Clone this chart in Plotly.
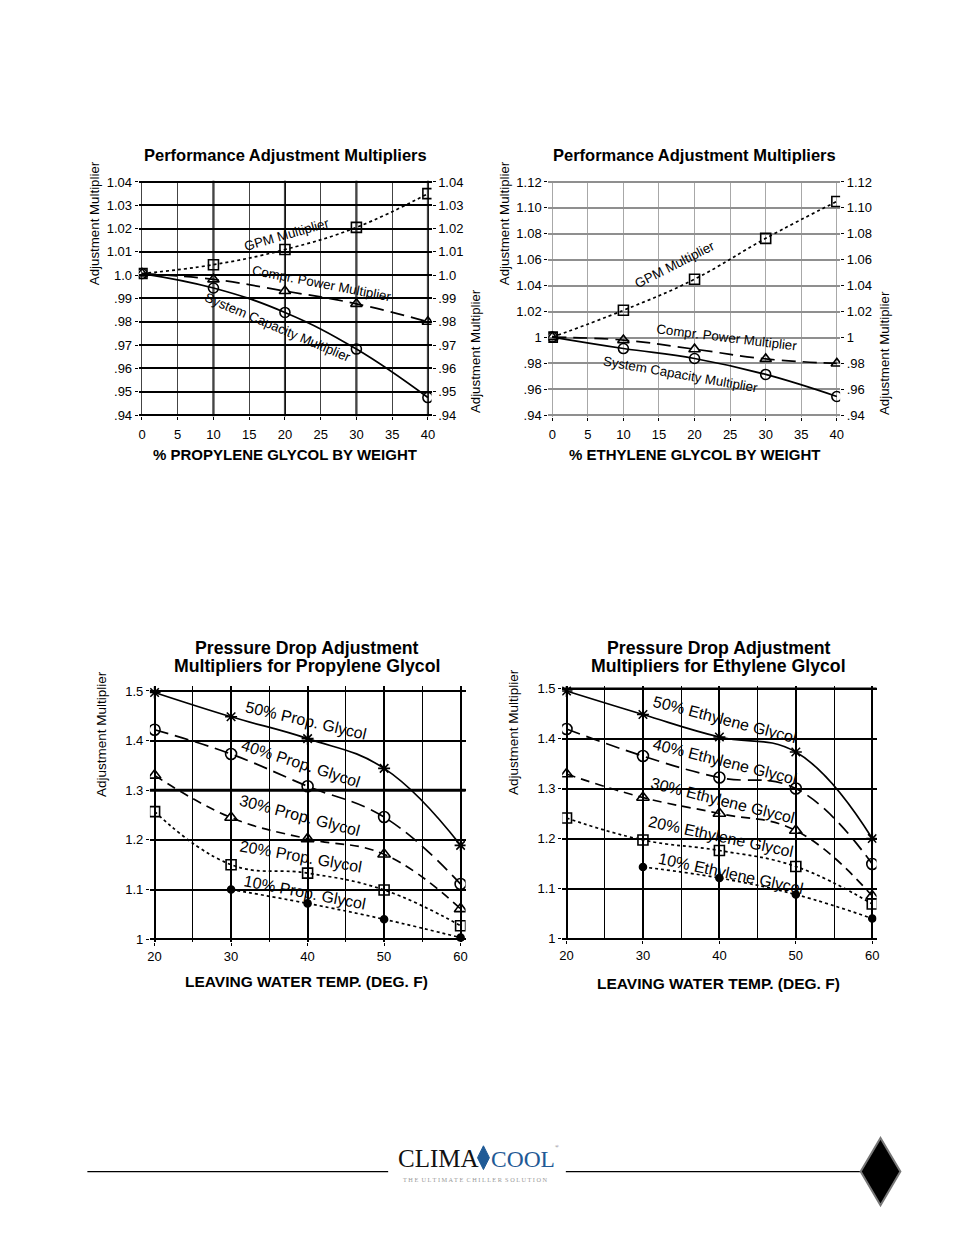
import plotly.graph_objects as go

W, H = 954, 1235
FONT = "Arial, 'Liberation Sans', sans-serif"
SERIF = "'Liberation Serif', 'DejaVu Serif', serif"

# ---------------- data ----------------
# Performance adjustment multipliers - propylene glycol
pg_pct = [0, 10, 20, 30, 40]
pg_gpm = [1.0007, 1.0045, 1.0110, 1.0205, 1.0350]
pg_power = [1.0007, 0.9982, 0.9932, 0.9877, 0.9800]
pg_capacity = [1.0007, 0.9945, 0.9840, 0.9683, 0.9475]

# Performance adjustment multipliers - ethylene glycol
eg_pct = [0, 10, 20, 30, 40]
eg_gpm = [1.0003, 1.0210, 1.0450, 1.0765, 1.1050]
eg_power = [1.0003, 0.9980, 0.9910, 0.9835, 0.9800]
eg_capacity = [1.0003, 0.9915, 0.9838, 0.9715, 0.9545]

# Pressure drop multipliers - propylene glycol
temps = [20, 30, 40, 50, 60]
temps_10 = [30, 40, 50, 60]
pdp_50 = [1.497, 1.448, 1.404, 1.344, 1.189]
pdp_40 = [1.422, 1.373, 1.308, 1.246, 1.111]
pdp_30 = [1.330, 1.245, 1.202, 1.171, 1.061]
pdp_20 = [1.257, 1.150, 1.133, 1.099, 1.027]
pdp_10 = [1.100, 1.072, 1.040, 1.003]

# Pressure drop multipliers - ethylene glycol
pde_50 = [1.495, 1.448, 1.403, 1.373, 1.200]
pde_40 = [1.419, 1.365, 1.322, 1.300, 1.149]
pde_30 = [1.329, 1.282, 1.250, 1.216, 1.085]
pde_20 = [1.241, 1.197, 1.176, 1.144, 1.069]
pde_10 = [1.143, 1.121, 1.088, 1.040]

# tick labels
pct_ticks = [0, 5, 10, 15, 20, 25, 30, 35, 40]
pg_yvals = [1.04, 1.03, 1.02, 1.01, 1.00, 0.99, 0.98, 0.97, 0.96, 0.95, 0.94]
pg_ylabels = ["1.04", "1.03", "1.02", "1.01", "1.0", ".99", ".98", ".97", ".96", ".95", ".94"]
eg_yvals = [1.12, 1.10, 1.08, 1.06, 1.04, 1.02, 1.00, 0.98, 0.96, 0.94]
eg_ylabels = ["1.12", "1.10", "1.08", "1.06", "1.04", "1.02", "1", ".98", ".96", ".94"]
temp_ticks = [20, 30, 40, 50, 60]
pd_yvals = [1.0, 1.1, 1.2, 1.3, 1.4, 1.5]
pd_ylabels = ["1", "1.1", "1.2", "1.3", "1.4", "1.5"]
pg_major_x = [10, 20, 30, 40]


def px(x, y):
    return x / W, 1 - y / H


fig = go.Figure()


def add(xs, ys, xa, ya, dash, symbol, size, width=1.7, mlw=1.6):
    fig.add_trace(go.Scatter(
        x=xs, y=ys, xaxis=xa, yaxis=ya, mode="lines+markers",
        line=dict(color="black", width=width, dash=dash, shape="spline", smoothing=1.2),
        marker=dict(symbol=symbol, size=size, color="black",
                    line=dict(color="black", width=mlw)),
        showlegend=False, hoverinfo="skip"))


DOT = "3px,3px"
LDASH = "14px,7px"
MDASH = "9px,6px"

# chart 1
add(pg_pct, pg_gpm, "x", "y", DOT, "square-open", 10)
add(pg_pct, pg_power, "x", "y", LDASH, "triangle-up-open", 10)
add(pg_pct, pg_capacity, "x", "y", "solid", "circle-open", 10)
fig.add_trace(go.Scatter(x=pg_pct, y=pg_gpm, xaxis="x", yaxis="y2", mode="markers",
                         marker=dict(opacity=0), showlegend=False, hoverinfo="skip"))
# chart 2
add(eg_pct, eg_gpm, "x2", "y3", DOT, "square-open", 10)
add(eg_pct, eg_power, "x2", "y3", LDASH, "triangle-up-open", 10)
add(eg_pct, eg_capacity, "x2", "y3", "solid", "circle-open", 10)
fig.add_trace(go.Scatter(x=eg_pct, y=eg_gpm, xaxis="x2", yaxis="y4", mode="markers",
                         marker=dict(opacity=0), showlegend=False, hoverinfo="skip"))
# chart 3
add(temps, pdp_50, "x3", "y5", "solid", "asterisk-open", 10)
add(temps, pdp_40, "x3", "y5", LDASH, "circle-open", 11)
add(temps, pdp_30, "x3", "y5", MDASH, "triangle-up-open", 11)
add(temps, pdp_20, "x3", "y5", DOT, "square-open", 10)
add(temps_10, pdp_10, "x3", "y5", DOT, "circle", 7)
# chart 4
add(temps, pde_50, "x4", "y6", "solid", "asterisk-open", 10)
add(temps, pde_40, "x4", "y6", LDASH, "circle-open", 11)
add(temps, pde_30, "x4", "y6", MDASH, "triangle-up-open", 11)
add(temps, pde_20, "x4", "y6", DOT, "square-open", 10)
add(temps_10, pde_10, "x4", "y6", DOT, "circle", 7)


def dom_x(a, b):
    return [a / W, b / W]


def dom_y(top, bottom):
    return [1 - bottom / H, 1 - top / H]


tickfont = dict(size=13, color="black", family=FONT)
common = dict(zeroline=False, showline=False, tickfont=tickfont, ticks="outside",
              ticklen=3, tickcolor="black", fixedrange=True)

fig.update_layout(
    width=W, height=H, margin=dict(l=0, r=0, t=0, b=0),
    paper_bgcolor="white", plot_bgcolor="white", showlegend=False,
    font=dict(family=FONT, color="black"),
    # chart 1
    xaxis=dict(domain=dom_x(136.7, 431.7), range=[-0.46, 40.51], anchor="y",
               tickvals=pct_ticks, showgrid=True, gridcolor="#444", gridwidth=1.2,
               ticklabelstandoff=3, **common),
    yaxis=dict(domain=dom_y(176.5, 414.2), range=[0.9395, 1.0405], anchor="x",
               tickvals=pg_yvals, ticktext=pg_ylabels, showgrid=True, gridcolor="black",
               gridwidth=1.5, **common),
    yaxis2=dict(range=[0.9395, 1.0405], overlaying="y", side="right", anchor="x",
                tickvals=pg_yvals, ticktext=pg_ylabels, showgrid=False, **common),
    # chart 2
    xaxis2=dict(domain=dom_x(549.3, 843.3), range=[-0.56, 40.46], anchor="y3",
                tickvals=pct_ticks, showgrid=True, gridcolor="#a8a8a8", gridwidth=1.3,
                ticklabelstandoff=3, **common),
    yaxis3=dict(domain=dom_y(176.4, 414.6), range=[0.939, 1.121], anchor="x2",
                tickvals=eg_yvals, ticktext=eg_ylabels, showgrid=True, gridcolor="#8f8f8f",
                gridwidth=1.5, **common),
    yaxis4=dict(range=[0.939, 1.121], overlaying="y3", side="right", anchor="x2",
                tickvals=eg_yvals, ticktext=eg_ylabels, showgrid=False, **common),
    # chart 3
    xaxis3=dict(domain=dom_x(148, 466), range=[19.39, 60.65], anchor="y5",
                tickvals=temp_ticks, showgrid=True, gridcolor="black", gridwidth=1.5,
                minor=dict(dtick=5, showgrid=True, gridcolor="black", gridwidth=1.2),
                **common),
    yaxis5=dict(domain=dom_y(686.7, 945), range=[0.9946, 1.51], anchor="x3",
                tickvals=pd_yvals, ticktext=pd_ylabels, showgrid=True, gridcolor="black",
                gridwidth=1.5, **common),
    # chart 4
    xaxis4=dict(domain=dom_x(563.3, 880), range=[19.43, 60.56], anchor="y6",
                tickvals=temp_ticks, showgrid=True, gridcolor="black", gridwidth=1.5,
                minor=dict(dtick=5, showgrid=True, gridcolor="black", gridwidth=1.2),
                **common),
    yaxis6=dict(domain=dom_y(686.7, 943.3), range=[0.9968, 1.505], anchor="x4",
                tickvals=pd_yvals, ticktext=pd_ylabels, showgrid=True, gridcolor="black",
                gridwidth=1.5, **common),
)

shapes = []
for v in pg_major_x:
    shapes.append(dict(type="line", xref="x", yref="y domain", x0=v, x1=v, y0=0, y1=1,
                       line=dict(color="black", width=2), layer="below"))
shapes.append(dict(type="line", xref="x3 domain", yref="y5", x0=0, x1=1, y0=1.3, y1=1.3,
                   line=dict(color="black", width=3), layer="below"))
shapes.append(dict(type="line", xref="x3 domain", yref="y5", x0=0, x1=1, y0=1.5, y1=1.5,
                   line=dict(color="black", width=2.2), layer="below"))
shapes.append(dict(type="line", xref="x4 domain", yref="y6", x0=0, x1=1, y0=1.5, y1=1.5,
                   line=dict(color="black", width=2.2), layer="below"))

for (xa, xb) in [(85, 388), (567, 866)]:
    x0, y0 = px(xa, 1177)
    x1, _ = px(xb, 1177)
    shapes.append(dict(type="line", xref="paper", yref="paper", x0=x0, x1=x1, y0=y0, y1=y0,
                       line=dict(color="black", width=1.3)))


def path(points):
    s = ""
    for i, (a, b) in enumerate(points):
        xx, yy = px(a, b)
        s += ("M" if i == 0 else "L") + f"{xx:.5f},{yy:.5f} "
    return s + "Z"


shapes.append(dict(type="path", xref="paper", yref="paper",
                   path=path([(884, 1143), (904, 1177), (884, 1211), (864, 1177)]),
                   fillcolor="black", line=dict(color="#777", width=2)))
shapes.append(dict(type="path", xref="paper", yref="paper",
                   path=path([(484, 1151), (490, 1163), (484, 1175), (478, 1163)]),
                   fillcolor="#1f5a96", line=dict(color="#1f5a96", width=1)))
fig.update_layout(shapes=shapes)

ann = []


def text(x, y, t, size, angle=0, bold=False, color="black", family=FONT, xanchor="center"):
    xx, yy = px(x, y)
    ann.append(dict(xref="paper", yref="paper", x=xx, y=yy, text=(f"<b>{t}</b>" if bold else t),
                    showarrow=False, textangle=angle, xanchor=xanchor, yanchor="middle",
                    font=dict(size=size, color=color, family=family)))


# titles
text(285, 150, "Performance Adjustment Multipliers", 16.5, bold=True)
text(697, 150, "Performance Adjustment Multipliers", 16.5, bold=True)
text(306, 648, "Pressure Drop Adjustment", 17.7, bold=True)
text(306, 666, "Multipliers for Propylene Glycol", 17.7, bold=True)
text(721, 648, "Pressure Drop Adjustment", 17.7, bold=True)
text(721, 666, "Multipliers for Ethylene Glycol", 17.7, bold=True)
# x titles
text(284, 453, "% PROPYLENE GLYCOL BY WEIGHT", 15, bold=True)
text(697, 453, "% ETHYLENE GLYCOL BY WEIGHT", 15, bold=True)
text(306, 985, "LEAVING WATER TEMP. (DEG. F)", 15.5, bold=True)
text(721, 987, "LEAVING WATER TEMP. (DEG. F)", 15.5, bold=True)
# y titles
text(93, 219, "Adjustment Multiplier", 13.3, angle=-90)
text(476, 349, "Adjustment Multiplier", 13.3, angle=-90)
text(506, 219, "Adjustment Multiplier", 13.3, angle=-90)
text(888, 350, "Adjustment Multiplier", 13.3, angle=-90)
text(100, 735, "Adjustment Multiplier", 13.5, angle=-90)
text(515, 733, "Adjustment Multiplier", 13.5, angle=-90)
# curve labels chart 1
text(286, 231, "GPM Multiplier", 13.3, angle=-16)
text(321, 280, "Compr. Power Multiplier", 13.3, angle=11)
text(277, 325, "System Capacity Multiplier", 13.3, angle=23)
# chart 2
text(677, 261, "GPM Multiplier", 13.3, angle=-27)
text(729, 335, "Compr. Power Multiplier", 13.3, angle=7)
text(683, 372, "System Capacity Multiplier", 13.3, angle=10)
# chart 3
text(305, 722, "50% Prop. Glycol", 16, angle=13)
text(300, 765, "40% Prop. Glycol", 16, angle=18)
text(299, 817, "30% Prop. Glycol", 16, angle=14.5)
text(300, 859, "20% Prop. Glycol", 16, angle=10)
text(304, 895, "10% Prop. Glycol", 16, angle=11)
# chart 4
text(727, 721, "50% Ethylene Glycol", 16, angle=14.5)
text(727, 763, "40% Ethylene Glycol", 16, angle=14)
text(725, 802, "30% Ethylene Glycol", 16, angle=14)
text(723, 839, "20% Ethylene Glycol", 16, angle=12)
text(733, 876, "10% Ethylene Glycol", 16, angle=12)
# logo
text(396, 1164, "CLIMA", 25, color="#111", family=SERIF, xanchor="left")
text(490, 1164, "COOL", 23.5, color="#1f5a96", family=SERIF, xanchor="left")
text(558, 1152, "®", 5, color="#555", family=SERIF)
text(476, 1185, "T H E  U L T I M A T E  C H I L L E R  S O L U T I O N", 6.3,
     color="#999", family=SERIF)

fig.update_layout(annotations=ann)
fig.write_html("out.html", post_script="document.body.style.margin='0';",
               config={"displayModeBar": False})
